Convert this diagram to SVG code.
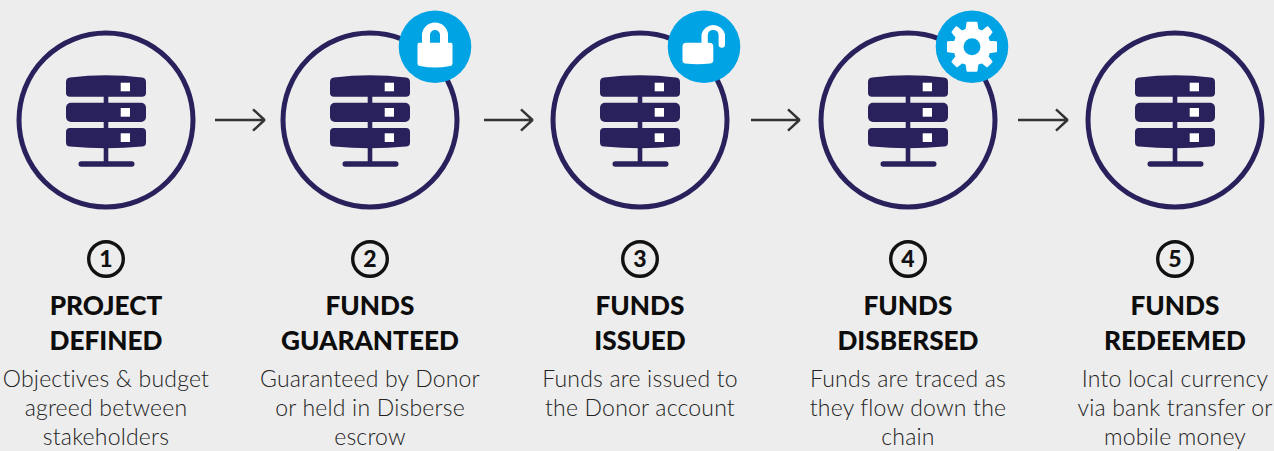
<svg xmlns="http://www.w3.org/2000/svg" xmlns:xlink="http://www.w3.org/1999/xlink" width="1274" height="451" viewBox="0 0 1274 451">
<style>
.ring{fill:none;stroke:#29215c;stroke-width:5}
.sv{fill:#29215c}
.sq{fill:#fff}
.badge{fill:#00a3e4}
.w{fill:#fff}
.num{fill:none;stroke:#111;stroke-width:3.4}
.n{font:900 23px Lato,"Noto Sans",sans-serif;fill:#111;text-anchor:middle}
.t{font:900 26.2px Lato,"Noto Sans",sans-serif;fill:#0d0d0d;text-anchor:middle}
.b{font:300 23px Lato,"Noto Sans",sans-serif;letter-spacing:.2px;fill:#222;text-anchor:middle}
.arr{fill:none;stroke:#333;stroke-width:2.4;stroke-linejoin:bevel}
</style>
<defs>
<g id="server">
<circle class="ring" r="87"/>
<rect class="sv" x="-2.300" y="-30" width="4.600" height="45"/>
<rect class="sv" x="-2.300" y="25" width="4.600" height="20"/>
<rect class="sv" x="-27.500" y="41.300" width="56" height="5.400" rx="2.700"/>
<path class="sv" d="M-40-38Q-40-42-36-42.400Q0-47 36-42.400Q40-42 40-38V-27Q40-23.300 36-23.300H-36Q-40-23.300-40-27Z"/>
<rect class="sv" x="-40" y="-17.300" width="80" height="19.300" rx="5"/>
<path class="sv" d="M-40 12Q-40 8-36 8H36Q40 8 40 12V22.500Q40 26.500 36 26.500Q0 30-36 26.500Q-40 26.500-40 22.500Z"/>
<rect class="sq" x="14.700" y="-37.300" width="9.300" height="8.600"/>
<rect class="sq" x="14.700" y="-12" width="9.300" height="8.700"/>
<rect class="sq" x="14.700" y="13.300" width="9.300" height="8.700"/>
</g>
</defs>
<rect width="1274" height="451" fill="#ededed"/>
<g id="connectors">
<path class="arr" d="M215 120H264.500M253 109.300L264.500 120L253 130.700"/>
<path class="arr" d="M484 120H532.500M521 109.300L532.500 120L521 130.700"/>
<path class="arr" d="M751 120H799.500M788 109.300L799.500 120L788 130.700"/>
<path class="arr" d="M1018 120H1067.500M1056 109.300L1067.500 120L1056 130.700"/>
</g>
<g id="node1">
<use xlink:href="#server" href="#server" x="106" y="120"/>
<circle class="num" cx="106" cy="259" r="17.300"/>
<text class="n" x="106" y="267">1</text>
<text class="t" x="106" y="314.500">PROJECT</text>
<text class="t" x="106" y="349.500">DEFINED</text>
<text class="b" x="106" y="387">Objectives &amp; budget</text>
<text class="b" x="106" y="416">agreed between</text>
<text class="b" x="106" y="445">stakeholders</text>
</g>
<g id="node2">
<use xlink:href="#server" href="#server" x="370" y="120"/>
<circle class="badge" cx="435" cy="46.700" r="36.300"/>
<path class="w" d="M419 42.700H422V35A13 12.500 0 0 1 448 35V42.700H451Q452.500 42.700 452.500 45V63Q452.500 66 450 66Q435 69 420 66Q417.500 66 417.500 63V45Q417.500 42.700 419 42.700ZM430 42.700H440V35A5 5 0 0 0 430 35Z"/>
<circle class="num" cx="370" cy="259" r="17.300"/>
<text class="n" x="370" y="267">2</text>
<text class="t" x="370" y="314.500">FUNDS</text>
<text class="t" x="370" y="349.500">GUARANTEED</text>
<text class="b" x="370" y="387">Guaranteed by Donor</text>
<text class="b" x="370" y="416">or held in Disberse</text>
<text class="b" x="370" y="445">escrow</text>
</g>
<g id="node3">
<use xlink:href="#server" href="#server" x="640" y="120"/>
<circle class="badge" cx="704" cy="46.700" r="36.300"/>
<path class="w" d="M682.500 46.500Q682.500 42.700 686 42.700H701.500V34.500A12 12 0 0 1 725 34.500V44.500A3.200 3.200 0 0 1 718.600 44.500V34.500A5.500 5.500 0 0 0 707.800 34.500V42.700H709.500Q713.300 42.700 713.300 46.500V60.500Q713.300 63 710 63.500Q697 65 685.500 63.500Q682.500 63 682.500 60.500Z"/>
<circle class="num" cx="640" cy="259" r="17.300"/>
<text class="n" x="640" y="267">3</text>
<text class="t" x="640" y="314.500">FUNDS</text>
<text class="t" x="640" y="349.500">ISSUED</text>
<text class="b" x="640" y="387">Funds are issued to</text>
<text class="b" x="640" y="416">the Donor account</text>
</g>
<g id="node4">
<use xlink:href="#server" href="#server" x="908" y="120"/>
<circle class="badge" cx="972" cy="46.700" r="36.300"/>
<g transform="translate(972 46.700)">
<path class="w" stroke="#fff" stroke-width="2" stroke-linejoin="round" fill-rule="evenodd" d="M-4.500-24H4.500L5.500-17L10-15L15.500-19.500L19.500-14.500L15.500-9.500L17-5L24-4.500V4.500L17 5.500L15.500 10L19.500 15L15 19.500L10 15.500L5.500 17L4.500 24H-4.500L-5.500 17L-10 15.500L-15 19.500L-19.500 15L-15.500 10L-17 5.500L-24 4.500V-4.500L-17-5L-15.500-9.500L-19.500-14.500L-15.500-19.500L-10-15L-5.500-17ZM9.500 0A9.500 9.500 0 1 0-9.500 0A9.500 9.500 0 1 0 9.500 0Z"/>
</g>
<circle class="num" cx="908" cy="259" r="17.300"/>
<text class="n" x="908" y="267">4</text>
<text class="t" x="908" y="314.500">FUNDS</text>
<text class="t" x="908" y="349.500">DISBERSED</text>
<text class="b" x="908" y="387">Funds are traced as</text>
<text class="b" x="908" y="416">they flow down the</text>
<text class="b" x="908" y="445">chain</text>
</g>
<g id="node5">
<use xlink:href="#server" href="#server" x="1175" y="120"/>
<circle class="num" cx="1175" cy="259" r="17.300"/>
<text class="n" x="1175" y="267">5</text>
<text class="t" x="1175" y="314.500">FUNDS</text>
<text class="t" x="1175" y="349.500">REDEEMED</text>
<text class="b" x="1175" y="387">Into local currency</text>
<text class="b" x="1175" y="416">via bank transfer or</text>
<text class="b" x="1175" y="445">mobile money</text>
</g>
</svg>
